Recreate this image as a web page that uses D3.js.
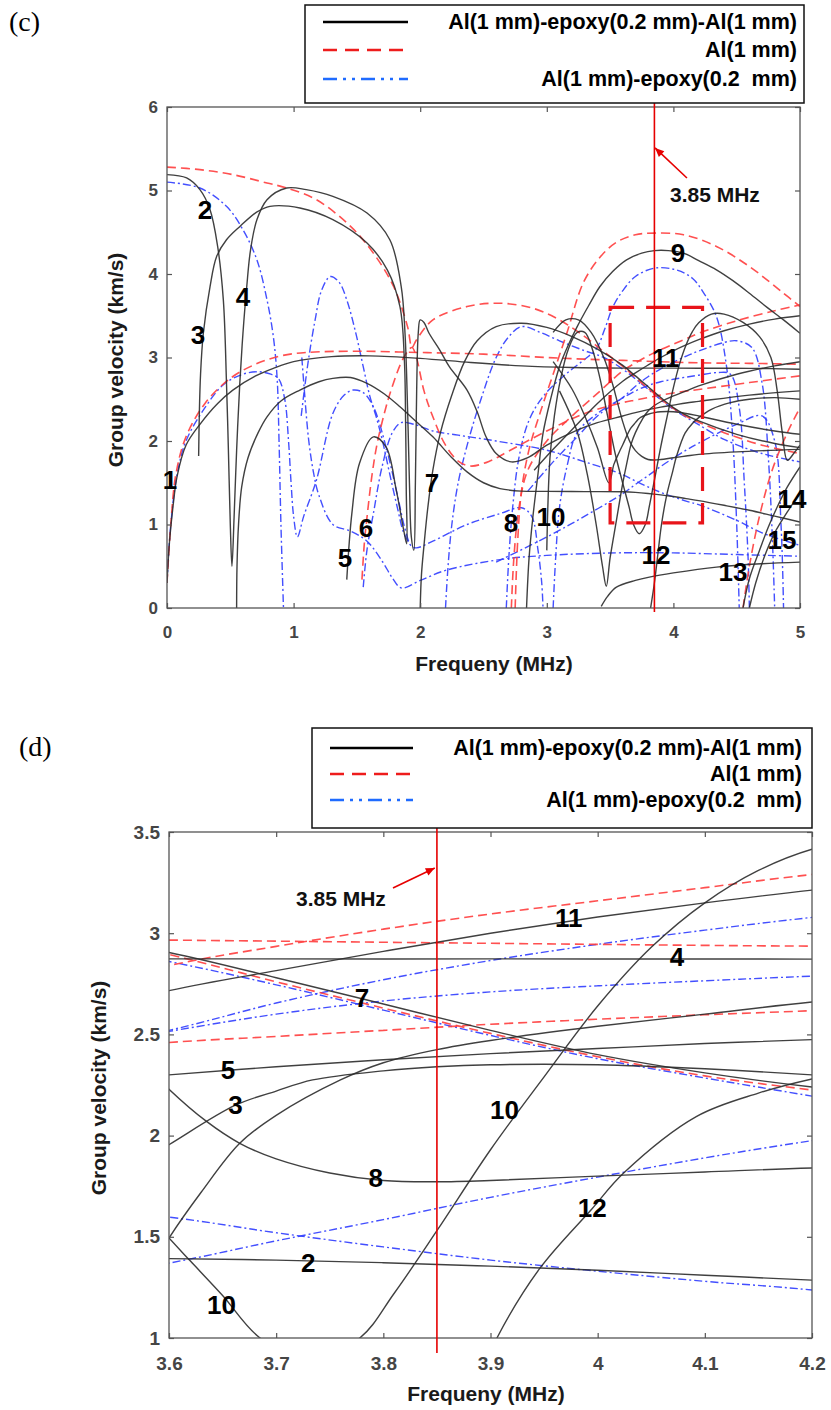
<!DOCTYPE html>
<html><head><meta charset="utf-8">
<script src="https://cdn.jsdelivr.net/npm/d3@7"></script>
<style>body{margin:0;background:#fff}svg{display:block}</style>
</head><body>
<svg id="fig" width="831" height="1410"></svg>
<script>
// ---------------- DATA (frequency MHz, group velocity km/s) ----------------
const markerFreq = 3.85;
const xTicksC = [0,1,2,3,4,5];
const yTicksC = [0,1,2,3,4,5,6];
const xTicksD = [3.6,3.7,3.8,3.9,4,4.1,4.2];
const yTicksD = [1,1.5,2,2.5,3,3.5];
const zoomBoxFreq = [3.5,4.23];
const zoomBoxVel = [1.02,3.6];
const legendLabels = ["Al(1 mm)-epoxy(0.2 mm)-Al(1 mm)","Al(1 mm)","Al(1 mm)-epoxy(0.2  mm)"];
const markerText = "3.85 MHz";

// black: Al-epoxy-Al
const bkMode1 = [[0,0.3],[0.02,0.8],[0.05,1.25],[0.08,1.58],[0.15,1.95],[0.26,2.2],[0.4,2.45],[0.52,2.61],[0.7,2.78],[0.84,2.87],[1.0,2.95],[1.3,3.01],[1.6,3.02],[2.0,2.99],[2.4,2.94],[2.8,2.9],[3.2,2.88],[3.6,2.873],[3.9,2.873],[4.2,2.872],[4.6,2.87],[5.0,2.86]];
const bkMode2 = [[0,5.19],[0.155,5.15],[0.26,5.01],[0.34,4.77],[0.40,4.33],[0.445,3.69],[0.47,2.69],[0.485,1.89],[0.5,1.0],[0.513,0.5],[0.53,1.09],[0.55,1.89],[0.575,2.69],[0.6,3.29],[0.63,3.85],[0.66,4.29],[0.71,4.65],[0.79,4.89],[0.945,5.03],[1.1,5.01],[1.31,4.93],[1.58,4.73],[1.76,4.41],[1.85,3.85],[1.88,3.29],[1.9,2.4],[1.915,1.5],[1.93,0.85],[1.95,0.69],[1.962,1.5],[1.972,2.6],[1.985,3.3],[2.0,3.45],[2.03,3.42],[2.07,3.29],[2.15,3.1],[2.23,2.89],[2.37,2.61],[2.45,2.35],[2.52,2.05],[2.6,1.85],[2.72,1.75],[2.85,1.8],[3.0,1.95],[3.24,2.13],[3.4,2.22],[3.6,2.30],[3.7,2.34],[3.8,2.375],[3.9,2.405],[4.0,2.43],[4.1,2.455],[4.2,2.474],[4.6,2.55],[5.0,2.6]];
const bkMode3 = [[0.25,1.82],[0.255,2.3],[0.265,2.8],[0.287,3.29],[0.34,3.85],[0.392,4.21],[0.47,4.41],[0.576,4.57],[0.708,4.74],[0.813,4.81],[1.05,4.79],[1.31,4.65],[1.58,4.37],[1.74,4.05],[1.84,3.61],[1.875,2.97],[1.885,2.2],[1.89,1.4],[1.893,0.77],[1.87,0.93],[1.81,1.42],[1.73,1.93],[1.63,2.05],[1.52,1.73],[1.46,1.13],[1.42,0.34]];
const bkHump = [[0.55,0],[0.553,0.5],[0.565,1.0],[0.59,1.45],[0.64,1.8],[0.72,2.1],[0.79,2.29],[0.9,2.48],[1.05,2.61],[1.2,2.71],[1.31,2.75],[1.45,2.76],[1.58,2.69],[1.72,2.56],[1.84,2.41],[1.97,2.23],[2.1,2.05],[2.25,1.8],[2.37,1.63],[2.5,1.5],[2.63,1.43],[2.8,1.4],[3.0,1.397],[3.3,1.394],[3.6,1.392],[3.7,1.385],[3.8,1.372],[3.9,1.355],[4.0,1.335],[4.1,1.31],[4.2,1.286],[4.4,1.23],[4.6,1.17],[4.8,1.1],[5.0,1.03]];
const bkMode7 = [[2.0,0],[2.01,0.4],[2.03,0.75],[2.06,1.2],[2.1,1.65],[2.16,2.1],[2.25,2.55],[2.35,2.95],[2.45,3.2],[2.6,3.37],[2.8,3.41],[3.0,3.36],[3.2,3.25],[3.4,3.1],[3.6,2.905],[3.7,2.78],[3.8,2.65],[3.9,2.52],[4.0,2.40],[4.1,2.31],[4.2,2.24],[4.5,2.08],[4.8,1.97],[5.0,1.92]];
const bkMode9 = [[2.84,0],[2.86,0.6],[2.89,1.09],[2.93,1.6],[2.97,2.09],[3.03,2.5],[3.1,2.89],[3.17,3.15],[3.24,3.37],[3.33,3.62],[3.42,3.85],[3.52,4.03],[3.63,4.17],[3.75,4.25],[3.85,4.28],[3.96,4.28],[4.08,4.25],[4.2,4.16],[4.34,4.05],[4.47,3.92],[4.6,3.77],[4.74,3.6],[4.87,3.45],[5.0,3.29]];
const bkMode10 = [[3.0,0.69],[3.008,1.2],[3.025,1.8],[3.06,2.3],[3.11,2.75],[3.17,3.1],[3.24,3.3],[3.3,3.3],[3.36,3.1],[3.42,2.75],[3.48,2.3],[3.54,1.85],[3.6,1.494],[3.62,1.38],[3.65,1.21],[3.685,1.0],[3.73,0.89],[3.778,1.0],[3.81,1.22],[3.85,1.53],[3.9,1.93],[3.95,2.29],[4.0,2.64],[4.05,2.93],[4.1,3.15],[4.15,3.31],[4.2,3.415],[4.3,3.52],[4.4,3.52],[4.55,3.42],[4.68,3.25],[4.77,3.0],[4.82,2.6],[4.86,2.1],[4.9,1.77],[4.95,1.85],[5.0,1.95]];
const bkMode11 = [[2.9,1.65],[3.05,1.9],[3.24,2.2],[3.4,2.45],[3.6,2.716],[3.7,2.815],[3.8,2.91],[3.9,3.0],[4.0,3.08],[4.1,3.15],[4.2,3.213],[4.4,3.32],[4.6,3.4],[4.8,3.46],[5.0,3.5]];
const bkModeA = [[3.1,2.6],[3.24,2.11],[3.32,1.6],[3.39,1.0],[3.44,0.5],[3.47,0.26],[3.5,0.6],[3.55,1.05],[3.6,1.494],[3.63,1.72],[3.666,1.962],[3.7,2.10],[3.76,2.275],[3.8,2.36],[3.85,2.425],[3.9,2.47],[4.0,2.54],[4.1,2.60],[4.2,2.66],[4.5,2.8],[4.8,2.9],[5.0,2.95]];
const bkMode3b = [[3.05,2.95],[3.2,2.62],[3.3,2.3],[3.4,1.92],[3.49,1.5],[3.53,1.72],[3.57,1.86],[3.6,1.955],[3.662,2.15],[3.7,2.22],[3.734,2.275],[3.8,2.32],[3.85,2.34],[3.9,2.35],[4.0,2.35],[4.1,2.33],[4.2,2.30],[4.5,2.2],[4.8,2.12],[5.0,2.08]];
const bkMode8 = [[3.05,3.3],[3.15,3.45],[3.25,3.45],[3.35,3.3],[3.45,3.0],[3.52,2.68],[3.56,2.45],[3.6,2.229],[3.635,2.07],[3.666,1.962],[3.7,1.885],[3.75,1.815],[3.8,1.778],[3.85,1.772],[3.9,1.778],[4.0,1.80],[4.1,1.82],[4.2,1.84],[4.5,1.87],[5.0,1.9]];
const bkMode12 = [[3.82,0],[3.85,0.3],[3.88,0.68],[3.906,1.0],[3.946,1.344],[3.995,1.64],[4.024,1.814],[4.092,2.094],[4.15,2.21],[4.2,2.28],[4.3,2.38],[4.45,2.46],[4.6,2.5],[4.8,2.52],[5.0,2.5]];
const bkMode13 = [[3.43,0.02],[3.48,0.14],[3.55,0.25],[3.7,0.33],[3.81,0.37],[4.0,0.42],[4.34,0.49],[4.7,0.53],[5.0,0.55]];
const bkMode14 = [[4.55,0],[4.6,0.35],[4.68,0.69],[4.75,0.97],[4.82,1.21],[4.9,1.45],[5.0,1.69]];
const bkMode15 = [[4.6,0],[4.65,0.3],[4.72,0.62],[4.8,0.9],[4.9,1.15],[5.0,1.38]];

// red: Al
const rdS0 = [[0,5.28],[0.26,5.25],[0.52,5.19],[0.79,5.09],[0.945,5.03],[1.18,4.89],[1.45,4.57],[1.63,4.25],[1.79,3.85],[1.9,3.37],[1.935,3.12],[1.97,3.21],[2.1,3.45],[2.37,3.61],[2.63,3.65],[2.89,3.59],[3.1,3.45],[3.3,3.25],[3.45,3.07],[3.6,2.895],[3.7,2.76],[3.8,2.63],[3.9,2.505],[4.0,2.39],[4.1,2.295],[4.2,2.225],[4.4,2.1],[4.7,1.95],[5.0,1.85]];
const rdA0 = [[0,0.3],[0.03,1.0],[0.07,1.6],[0.15,2.05],[0.3,2.45],[0.5,2.75],[0.7,2.92],[0.9,3.02],[1.1,3.06],[1.5,3.075],[2.0,3.06],[2.5,3.04],[3.0,3.0],[3.3,2.98],[3.6,2.966],[3.9,2.95],[4.2,2.936],[4.6,2.93],[5.0,2.92]];
const rdA1 = [[1.54,0.34],[1.56,0.8],[1.58,1.09],[1.62,1.6],[1.66,1.97],[1.72,2.35],[1.77,2.61],[1.87,3.0],[1.935,3.12],[1.97,3.0],[2.03,2.6],[2.1,2.29],[2.2,1.95],[2.3,1.76],[2.4,1.7],[2.55,1.76],[2.7,1.88],[3.0,2.12],[3.3,2.33],[3.6,2.46],[3.7,2.49],[3.8,2.52],[3.9,2.55],[4.0,2.575],[4.1,2.597],[4.2,2.617],[4.6,2.7],[5.0,2.78]];
const rdMode9 = [[2.75,0],[2.77,0.8],[2.8,1.4],[2.86,1.9],[2.95,2.35],[3.05,2.8],[3.16,3.3],[3.29,3.9],[3.42,4.2],[3.55,4.38],[3.7,4.47],[3.85,4.49],[4.08,4.47],[4.34,4.33],[4.6,4.09],[4.87,3.77],[5.0,3.61]];
const rdMode11 = [[2.72,0],[2.74,0.6],[2.78,1.2],[2.85,1.65],[3.0,2.0],[3.2,2.3],[3.4,2.57],[3.6,2.84],[3.7,2.935],[3.8,3.02],[3.9,3.095],[4.0,3.16],[4.1,3.225],[4.2,3.29],[4.5,3.44],[4.8,3.56],[5.0,3.63]];
const rdMode14 = [[4.55,0],[4.6,0.5],[4.68,1.1],[4.78,1.65],[4.9,2.1],[5.0,2.4]];

// blue: Al-epoxy
const blA0 = [[0,0.3],[0.03,1.0],[0.08,1.6],[0.15,2.0],[0.3,2.4],[0.45,2.68],[0.6,2.8],[0.72,2.83],[0.82,2.8],[0.88,2.75],[0.93,2.5],[0.96,2.0],[0.98,1.5],[1.0,1.1],[1.03,0.85],[1.08,1.1],[1.18,1.53],[1.31,2.33],[1.4,2.55],[1.47,2.61],[1.55,2.58],[1.63,2.41],[1.73,1.93],[1.82,1.35],[1.88,0.95],[1.93,0.74],[1.97,0.72],[2.1,0.8],[2.37,1.0],[2.63,1.13],[2.8,1.2],[2.88,1.1],[2.93,0.7],[2.96,0.3],[2.97,0]];
const blS0 = [[0,5.1],[0.26,5.03],[0.47,4.81],[0.6,4.53],[0.71,4.17],[0.79,3.69],[0.84,3.25],[0.87,2.75],[0.885,2.0],[0.9,1.0],[0.92,0]];
const blArch = [[1.06,2.3],[1.08,2.55],[1.12,3.0],[1.17,3.45],[1.22,3.8],[1.29,3.97],[1.36,3.9],[1.42,3.69],[1.49,3.3],[1.55,2.89],[1.6,2.55],[1.66,2.25],[1.71,1.95],[1.76,1.6],[1.82,1.2],[1.87,0.9],[1.92,0.76]];
const blLow = [[1.065,3.0],[1.08,2.7],[1.12,2.0],[1.16,1.6],[1.2,1.35],[1.31,1.0],[1.45,0.92],[1.58,0.8],[1.7,0.56],[1.78,0.36],[1.85,0.24],[2.0,0.33],[2.2,0.45],[2.63,0.58],[3.0,0.63],[3.55,0.66],[4.0,0.66],[4.5,0.64],[5.0,0.62]];
const blHump = [[1.55,0.25],[1.58,0.7],[1.63,1.13],[1.7,1.7],[1.78,2.1],[1.85,2.22],[1.95,2.2],[2.1,2.12],[2.3,2.07],[2.6,2.0],[3.0,1.89],[3.3,1.75],[3.6,1.597],[3.7,1.52],[3.8,1.45],[3.9,1.385],[4.0,1.33],[4.1,1.28],[4.2,1.237],[4.5,1.05],[4.7,0.9],[5.0,0.75]];
const blMode7 = [[2.2,0],[2.22,0.5],[2.25,1.0],[2.3,1.5],[2.38,2.0],[2.48,2.5],[2.6,3.0],[2.7,3.25],[2.8,3.37],[2.95,3.3],[3.1,3.2],[3.3,3.08],[3.45,3.0],[3.6,2.86],[3.7,2.745],[3.8,2.62],[3.9,2.495],[4.0,2.38],[4.1,2.285],[4.2,2.195],[4.4,2.02],[4.7,1.85],[5.0,1.75]];
const blMode9 = [[2.68,0],[2.7,0.6],[2.73,1.2],[2.78,1.8],[2.86,2.25],[2.98,2.55],[3.15,2.8],[3.3,2.98],[3.39,3.1],[3.46,3.35],[3.52,3.6],[3.6,3.8],[3.7,3.97],[3.85,4.07],[4.02,4.05],[4.15,3.95],[4.24,3.77],[4.34,3.49],[4.42,2.89],[4.47,2.0],[4.5,1.0],[4.52,0]];
const blMode11 = [[2.85,1.4],[3.05,1.75],[3.24,2.05],[3.4,2.3],[3.6,2.52],[3.7,2.655],[3.8,2.77],[3.9,2.865],[4.0,2.945],[4.1,3.015],[4.2,3.078],[4.4,3.18],[4.5,3.2],[4.62,3.12],[4.7,2.7],[4.75,1.8],[4.78,0.9],[4.8,0]];
const blMode4 = [[3.05,0],[3.07,0.6],[3.1,1.2],[3.16,1.7],[3.24,2.1],[3.4,2.33],[3.6,2.515],[3.7,2.6],[3.8,2.665],[3.9,2.71],[4.0,2.74],[4.1,2.765],[4.2,2.788],[4.35,2.82],[4.45,2.8],[4.52,2.4],[4.56,1.5],[4.59,0.6],[4.6,0]];
const blMode2 = [[2.6,0.55],[3.0,0.85],[3.3,1.1],[3.6,1.37],[3.7,1.48],[3.8,1.585],[3.9,1.695],[4.0,1.795],[4.1,1.89],[4.2,1.975],[4.5,2.2],[4.7,2.3],[4.8,2.0],[4.85,1.0],[4.87,0]];

const blackCurves = [bkMode1,bkMode2,bkMode3,bkHump,bkMode7,bkMode9,bkMode10,bkMode11,bkModeA,bkMode3b,bkMode8,bkMode12,bkMode13,bkMode14,bkMode15];
const redCurves = [rdS0,rdA0,rdA1,rdMode9,rdMode11,rdMode14];
const blueCurves = [blA0,blS0,blArch,blLow,blHump,blMode7,blMode9,blMode11,blMode4,blMode2];

// mode number labels [text, freq, vel]
const modeLabelsC = [["1",0.024,1.53],["2",0.30,4.77],["3",0.245,3.27],["4",0.60,3.72],["5",1.406,0.60],["6",1.572,0.96],["7",2.093,1.50],["8",2.717,1.02],["9",4.036,4.25],["10",3.033,1.09],["11",3.94,3.0],["12",3.863,0.63],["13",4.47,0.43],["14",4.937,1.31],["15",4.858,0.81]];
const modeLabelsD = [["11",3.973,3.075],["4",4.074,2.882],["7",3.78,2.68],["5",3.655,2.324],["3",3.662,2.151],["8",3.793,1.79],["10",3.913,2.127],["12",3.995,1.642],["2",3.73,1.371],["10",3.649,1.163]];
// marker annotation arrows [tail, tip] and text anchor
const arrowC = [[4.107,5.15],[3.855,5.51]];
const arrowTextC = [3.973,4.95];
const arrowD = [[3.809,3.223],[3.848,3.322]];
const arrowTextD = [3.7185,3.169];

// ---------------- STYLES ----------------
const styleBlack = {stroke:"#2b2b2b", width:1.4, dash:null, opacity:0.9};
const styleRed = {stroke:"#ff3d3d", width:1.6, dash:"9,5", opacity:0.9};
const styleBlue = {stroke:"#2f3cff", width:1.4, dash:"8,3,2,3", opacity:0.9};
const FONT = "'Liberation Sans', Arial, sans-serif";

const svg = d3.select("#fig");

function drawPanel(cfg) {
  const x = d3.scaleLinear().domain(cfg.xDomain).range([cfg.left, cfg.right]);
  const y = d3.scaleLinear().domain(cfg.yDomain).range([cfg.bottom, cfg.top]);
  const clipId = "clip-" + cfg.id;
  svg.append("clipPath").attr("id", clipId).append("rect")
    .attr("x", cfg.left).attr("y", cfg.top)
    .attr("width", cfg.right - cfg.left).attr("height", cfg.bottom - cfg.top);
  const g = svg.append("g");
  const plot = g.append("g").attr("clip-path", `url(#${clipId})`);
  const line = d3.line().x(d => x(d[0])).y(d => y(d[1])).curve(d3.curveCatmullRom.alpha(0.5));
  function drawSet(curves, st) {
    plot.append("g").selectAll("path").data(curves).join("path")
      .attr("d", line).attr("fill", "none")
      .attr("stroke", st.stroke).attr("stroke-width", st.width)
      .attr("stroke-dasharray", st.dash).attr("stroke-opacity", st.opacity)
      .attr("stroke-linejoin", "round");
  }
  drawSet(blueCurves, styleBlue);
  drawSet(redCurves, styleRed);
  drawSet(blackCurves, styleBlack);

  // axes (inward ticks, all 4 sides)
  const tickCol = "#555";
  const ax = g.append("g").attr("transform", `translate(0,${cfg.bottom})`)
    .call(d3.axisBottom(x).tickValues(cfg.xTicks).tickFormat(d => String(d))
      .tickSizeInner(-5).tickSizeOuter(0).tickPadding(cfg.xPad));
  const ay = g.append("g").attr("transform", `translate(${cfg.left},0)`)
    .call(d3.axisLeft(y).tickValues(cfg.yTicks).tickFormat(d => String(d))
      .tickSizeInner(-5).tickSizeOuter(0).tickPadding(cfg.yPad));
  const at = g.append("g").attr("transform", `translate(0,${cfg.top})`)
    .call(d3.axisTop(x).tickValues(cfg.xTicks).tickFormat("").tickSizeInner(-5).tickSizeOuter(0));
  const ar = g.append("g").attr("transform", `translate(${cfg.right},0)`)
    .call(d3.axisRight(y).tickValues(cfg.yTicks).tickFormat("").tickSizeInner(-5).tickSizeOuter(0));
  [ax, ay, at, ar].forEach(a => {
    a.select(".domain").remove();
    a.selectAll("line").attr("stroke", tickCol).attr("stroke-width", 1.2);
    a.selectAll("text").attr("font-family", FONT).attr("font-weight", "bold")
      .attr("font-size", cfg.tickFont).attr("fill", "#454545");
  });
  g.append("rect").attr("x", cfg.left).attr("y", cfg.top)
    .attr("width", cfg.right - cfg.left).attr("height", cfg.bottom - cfg.top)
    .attr("fill", "none").attr("stroke", tickCol).attr("stroke-width", 1.3);

  // axis titles
  g.append("text").attr("x", cfg.xTitleX).attr("y", cfg.xTitleY)
    .attr("text-anchor", "middle").attr("dominant-baseline", "central")
    .attr("font-family", FONT).attr("font-weight", "bold").attr("font-size", 21)
    .attr("fill", "#1a1a1a").text("Frequeny (MHz)");
  g.append("text").attr("transform", `translate(${cfg.yTitleX},${cfg.yTitleY}) rotate(-90)`)
    .attr("text-anchor", "middle").attr("dominant-baseline", "central")
    .attr("font-family", FONT).attr("font-weight", "bold").attr("font-size", 21)
    .attr("fill", "#1a1a1a").text("Group velocity (km/s)");

  // zoom box (panel c only)
  if (cfg.zoomBox) {
    g.append("rect").attr("x", x(zoomBoxFreq[0])).attr("y", y(zoomBoxVel[1]))
      .attr("width", x(zoomBoxFreq[1]) - x(zoomBoxFreq[0]))
      .attr("height", y(zoomBoxVel[0]) - y(zoomBoxVel[1]))
      .attr("fill", "none").attr("stroke", "#e8141a").attr("stroke-width", 3.2)
      .attr("stroke-dasharray", "24,12");
  }

  // marker line
  g.append("line").attr("x1", x(markerFreq)).attr("x2", x(markerFreq))
    .attr("y1", cfg.markTop).attr("y2", cfg.markBottom)
    .attr("stroke", "#e60000").attr("stroke-width", 1.6);

  // arrow
  const [t0, t1] = cfg.arrow.map(p => [x(p[0]), y(p[1])]);
  g.append("line").attr("x1", t0[0]).attr("y1", t0[1]).attr("x2", t1[0]).attr("y2", t1[1])
    .attr("stroke", "#e60000").attr("stroke-width", 1.6);
  const ang = Math.atan2(t1[1] - t0[1], t1[0] - t0[0]);
  const hl = 9, hw = 4;
  const bx = t1[0] - hl * Math.cos(ang), by = t1[1] - hl * Math.sin(ang);
  g.append("path").attr("d",
    `M${t1[0]},${t1[1]}L${bx + hw * Math.sin(ang)},${by - hw * Math.cos(ang)}L${bx - hw * Math.sin(ang)},${by + hw * Math.cos(ang)}Z`)
    .attr("fill", "#e60000");
  g.append("text").attr("x", x(cfg.arrowText[0])).attr("y", y(cfg.arrowText[1]))
    .attr("dominant-baseline", "central").attr("font-family", FONT).attr("font-weight", "bold")
    .attr("font-size", 21).attr("fill", "#111").text(markerText);

  // mode labels
  g.append("g").selectAll("text").data(cfg.labels).join("text")
    .attr("x", d => x(d[1])).attr("y", d => y(d[2]))
    .attr("text-anchor", "middle").attr("dominant-baseline", "central")
    .attr("font-family", FONT).attr("font-weight", "bold")
    .attr("font-size", 26).attr("fill", "#000").text(d => d[0]);

  // legend
  const L = cfg.legend;
  const lg = g.append("g");
  lg.append("rect").attr("x", L.x0).attr("y", L.y0).attr("width", L.x1 - L.x0).attr("height", L.y1 - L.y0)
    .attr("fill", "#fff").attr("stroke", "#111").attr("stroke-width", 1.5);
  const legStyles = [styleBlack, styleRed, styleBlue];
  legendLabels.forEach((lab, i) => {
    const ry = L.rows[i];
    lg.append("line").attr("x1", L.s0).attr("x2", L.s1).attr("y1", ry).attr("y2", ry)
      .attr("stroke", i === 2 ? "#1f6bff" : (i === 1 ? "#ee1c1c" : "#000"))
      .attr("stroke-width", 2.6).attr("stroke-dasharray", i === 1 ? "14,8" : (i === 2 ? "14,6,3,6,3,6" : null));
    lg.append("text").attr("x", L.tx).attr("y", ry).attr("text-anchor", "end")
      .attr("dominant-baseline", "central").attr("font-family", FONT).attr("font-weight", "bold")
      .attr("font-size", 21.5).attr("fill", "#000").attr("xml:space", "preserve")
      .style("white-space", "pre").text(lab);
  });

  // panel letter
  svg.append("text").attr("x", cfg.letterX).attr("y", cfg.letterY)
    .attr("font-family", "'Liberation Serif', 'Times New Roman', serif").attr("font-size", 28)
    .attr("fill", "#000").text(cfg.letter);
}

drawPanel({
  id: "c", left: 167, right: 800, top: 107, bottom: 608,
  xDomain: [0, 5], yDomain: [0, 6], xTicks: xTicksC, yTicks: yTicksC,
  xPad: 18, yPad: 9, tickFont: 17,
  xTitleX: 494, xTitleY: 663, yTitleX: 115, yTitleY: 360,
  zoomBox: true, markTop: 103, markBottom: 612,
  arrow: arrowC, arrowText: arrowTextC, labels: modeLabelsC,
  legend: {x0: 305, x1: 804, y0: 5, y1: 103, rows: [22, 50, 79], s0: 323, s1: 408, tx: 797},
  letter: "(c)", letterX: 9, letterY: 31
});
drawPanel({
  id: "d", left: 169, right: 812, top: 832, bottom: 1338,
  xDomain: [3.6, 4.2], yDomain: [1, 3.5], xTicks: xTicksD, yTicks: yTicksD,
  xPad: 19, yPad: 9, tickFont: 19,
  xTitleX: 486, xTitleY: 1393, yTitleX: 98, yTitleY: 1088,
  zoomBox: false, markTop: 827, markBottom: 1353,
  arrow: arrowD, arrowText: arrowTextD, labels: modeLabelsD,
  legend: {x0: 312, x1: 812, y0: 728, y1: 828, rows: [748, 774, 800], s0: 330, s1: 413, tx: 802},
  letter: "(d)", letterX: 19, letterY: 756
});
</script>
</body></html>
